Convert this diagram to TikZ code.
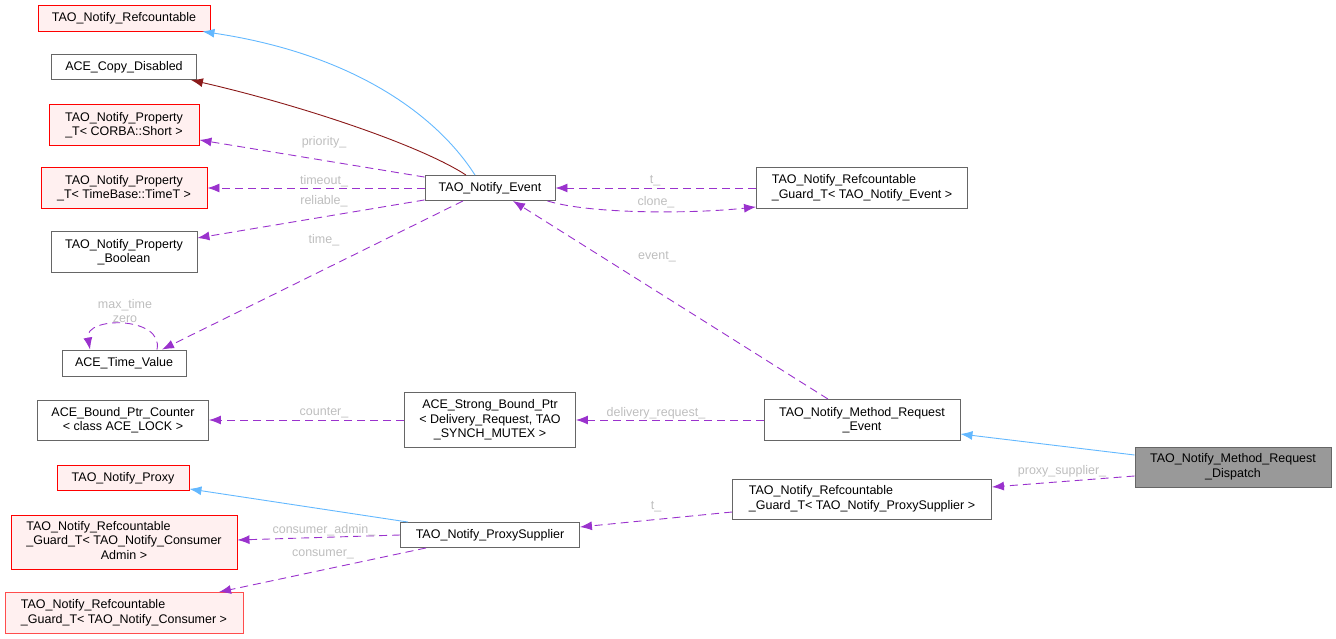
\documentclass[tikz,border=0pt]{standalone}
\usepackage{fontspec}
\setmainfont{Liberation Sans}
\usetikzlibrary{arrows.meta}
\definecolor{memberpurple}{HTML}{9A32CD}
\definecolor{inhblue}{HTML}{63B8FF}
\definecolor{privred}{HTML}{8B1A1A}
\definecolor{boxgray}{HTML}{666666}
\definecolor{extfill}{HTML}{FFF0F0}
\definecolor{curfill}{HTML}{999999}
\definecolor{lblgray}{HTML}{BEBEBE}
\definecolor{lightred}{HTML}{FF4D4D}
\tikzset{
  cls/.style = {draw=boxgray, fill=white, line width=0.9pt, inner sep=2pt, align=center,
                font=\fontsize{12.5}{14.5}\selectfont},
  extcls/.style = {cls, draw=red, fill=extfill},
  curcls/.style = {cls, fill=curfill},
  mem/.style = {draw=memberpurple, line width=0.9pt, dash pattern=on 8pt off 5pt,
                -{Latex[length=12pt,width=9pt]}},
  inh/.style = {draw=inhblue, line width=0.9pt, -{Latex[length=12pt,width=9pt]}},
  privinh/.style = {inh, draw=privred},
  lbl/.style = {text=lblgray, inner sep=0pt, align=center, font=\fontsize{12.5}{14.5}\selectfont}
}

\begin{document}
\begin{tikzpicture}[x=1pt, y=-1pt]
                \useasboundingbox (0,0) rectangle (1336,639);
                % left column
                \node[extcls, minimum width=172pt, minimum height=26pt] (refcountable) at (124,18) {TAO\_Notify\_Refcountable};
                \node[cls, minimum width=145pt, minimum height=25pt] (copydisabled) at (124,67) {ACE\_Copy\_Disabled};
                \node[extcls, minimum width=150pt, minimum height=41pt] (propshort) at (124,125) {TAO\_Notify\_Property\\\_T< CORBA::Short >};
                \node[extcls, minimum width=166pt, minimum height=41pt] (proptime) at (124,188) {TAO\_Notify\_Property\\\_T< TimeBase::TimeT >};
                \node[cls, minimum width=146pt, minimum height=41pt] (propbool) at (124,252) {TAO\_Notify\_Property\\\_Boolean};
                \node[cls, minimum width=124pt, minimum height=26pt] (timevalue) at (124,363) {ACE\_Time\_Value};
                \node[cls, minimum width=171pt, minimum height=40pt] (boundcounter) at (123,420) {ACE\_Bound\_Ptr\_Counter\\< class ACE\_LOCK >};
                \node[extcls, minimum width=132pt, minimum height=25pt] (notifyproxy) at (123,478) {TAO\_Notify\_Proxy};
                \node[extcls, minimum width=226pt, minimum height=54pt] (guardadmin) at (124,542)
                  {\begin{tabular}{@{}l@{}}TAO\_Notify\_Refcountable\\\_Guard\_T< TAO\_Notify\_Consumer\\\multicolumn{1}{@{}c@{}}{Admin >}\end{tabular}};
                \node[extcls, draw=lightred, minimum width=238pt, minimum height=41pt, align=left] (guardconsumer) at (124,613) {TAO\_Notify\_Refcountable\\\_Guard\_T< TAO\_Notify\_Consumer >};
                % middle column
                \node[cls, minimum width=130pt, minimum height=25pt] (notifyevent) at (490,188) {TAO\_Notify\_Event};
                \node[cls, minimum width=171pt, minimum height=55pt] (strongptr) at (490,420) {ACE\_Strong\_Bound\_Ptr\\< Delivery\_Request, TAO\\\_SYNCH\_MUTEX >};
                \node[cls, minimum width=179pt, minimum height=25pt] (proxysupplier) at (490,535) {TAO\_Notify\_ProxySupplier};
                % right side
                \node[cls, minimum width=211pt, minimum height=41pt, align=left] (guardevent) at (862,188) {TAO\_Notify\_Refcountable\\\_Guard\_T< TAO\_Notify\_Event >};
                \node[cls, minimum width=196pt, minimum height=41pt] (requestevent) at (862,420) {TAO\_Notify\_Method\_Request\\\_Event};
                \node[cls, minimum width=259pt, minimum height=40pt, align=left] (guardsupplier) at (862,499) {TAO\_Notify\_Refcountable\\\_Guard\_T< TAO\_Notify\_ProxySupplier >};
                \node[curcls, minimum width=196pt, minimum height=40pt] (requestdispatch) at (1233,467) {TAO\_Notify\_Method\_Request\\\_Dispatch};

                % inheritance
                \draw[inh] ([xshift=-15pt]notifyevent.north) .. controls (440,120) and (360,55) .. ([xshift=-8pt]refcountable.south east);
                \draw[privinh] ([xshift=-24pt]notifyevent.north) .. controls (420,145) and (300,105) .. ([xshift=-6pt]copydisabled.south east);
                \draw[inh] ([yshift=12pt]requestdispatch.west) -- ([yshift=-14pt]requestevent.east);
                \draw[inh] ([xshift=8pt]proxysupplier.north west) -- ([yshift=2pt]notifyproxy.south east);

                % members
                \draw[mem] ([yshift=-2pt]notifyevent.north west) -- ([yshift=6pt]propshort.south east);
                \draw[mem] (notifyevent.west) -- (proptime.east);
                \draw[mem] ([yshift=1pt]notifyevent.south west) -- ([yshift=14pt]propbool.east);
                \draw[mem] ([xshift=-27pt]notifyevent.south) -- ([xshift=38pt]timevalue.north);
                \draw[mem] ([xshift=33pt]timevalue.north) .. controls (164,316) and (84,316) .. ([xshift=-34pt]timevalue.north);
                \draw[mem] (guardevent.west) -- (notifyevent.east);
                \draw[mem] ([xshift=-8pt]notifyevent.south east) .. controls (590,214) and (690,214) .. ([yshift=2pt]guardevent.south west);
                \draw[mem] ([xshift=-34pt]requestevent.north) -- ([xshift=23pt]notifyevent.south);
                \draw[mem] (requestevent.west) -- (strongptr.east);
                \draw[mem] (strongptr.west) -- (boundcounter.east);
                \draw[mem] ([yshift=-9pt]requestdispatch.west) -- ([yshift=12pt]guardsupplier.east);
                \draw[mem] ([yshift=-13pt]guardsupplier.west) -- ([yshift=8pt]proxysupplier.east);
                \draw[mem] (proxysupplier.west) -- ([yshift=2pt]guardadmin.east);
                \draw[mem] ([xshift=26pt]proxysupplier.south west) -- ([xshift=95pt]guardconsumer.north);

                % member names
                \node[lbl] (lpriority) at (324,142) {priority\_};
                \node[lbl] (ltimeout) at (324,181) {timeout\_};
                \node[lbl] (lreliable) at (324,201) {reliable\_};
                \node[lbl] (ltime) at (324,240) {time\_};
                \node[lbl] (lmaxtime) at (125,311) {max\_time\\zero};
                \node[lbl] (lguardt) at (655,181) {t\_};
                \node[lbl] (lclone) at (656,202) {clone\_};
                \node[lbl] (levent) at (657,257) {event\_};
                \node[lbl] (ldelivery) at (656,413) {delivery\_request\_};
                \node[lbl] (lcounter) at (324,413) {counter\_};
                \node[lbl] (lsupplier) at (1062,471) {proxy\_supplier\_};
                \node[lbl] (lsuppliert) at (656,507) {t\_};
                \node[lbl] (ladmin) at (324,530) {consumer\_admin\_};
                \node[lbl] (lconsumer) at (323,554) {consumer\_};
\end{tikzpicture}
\end{document}
